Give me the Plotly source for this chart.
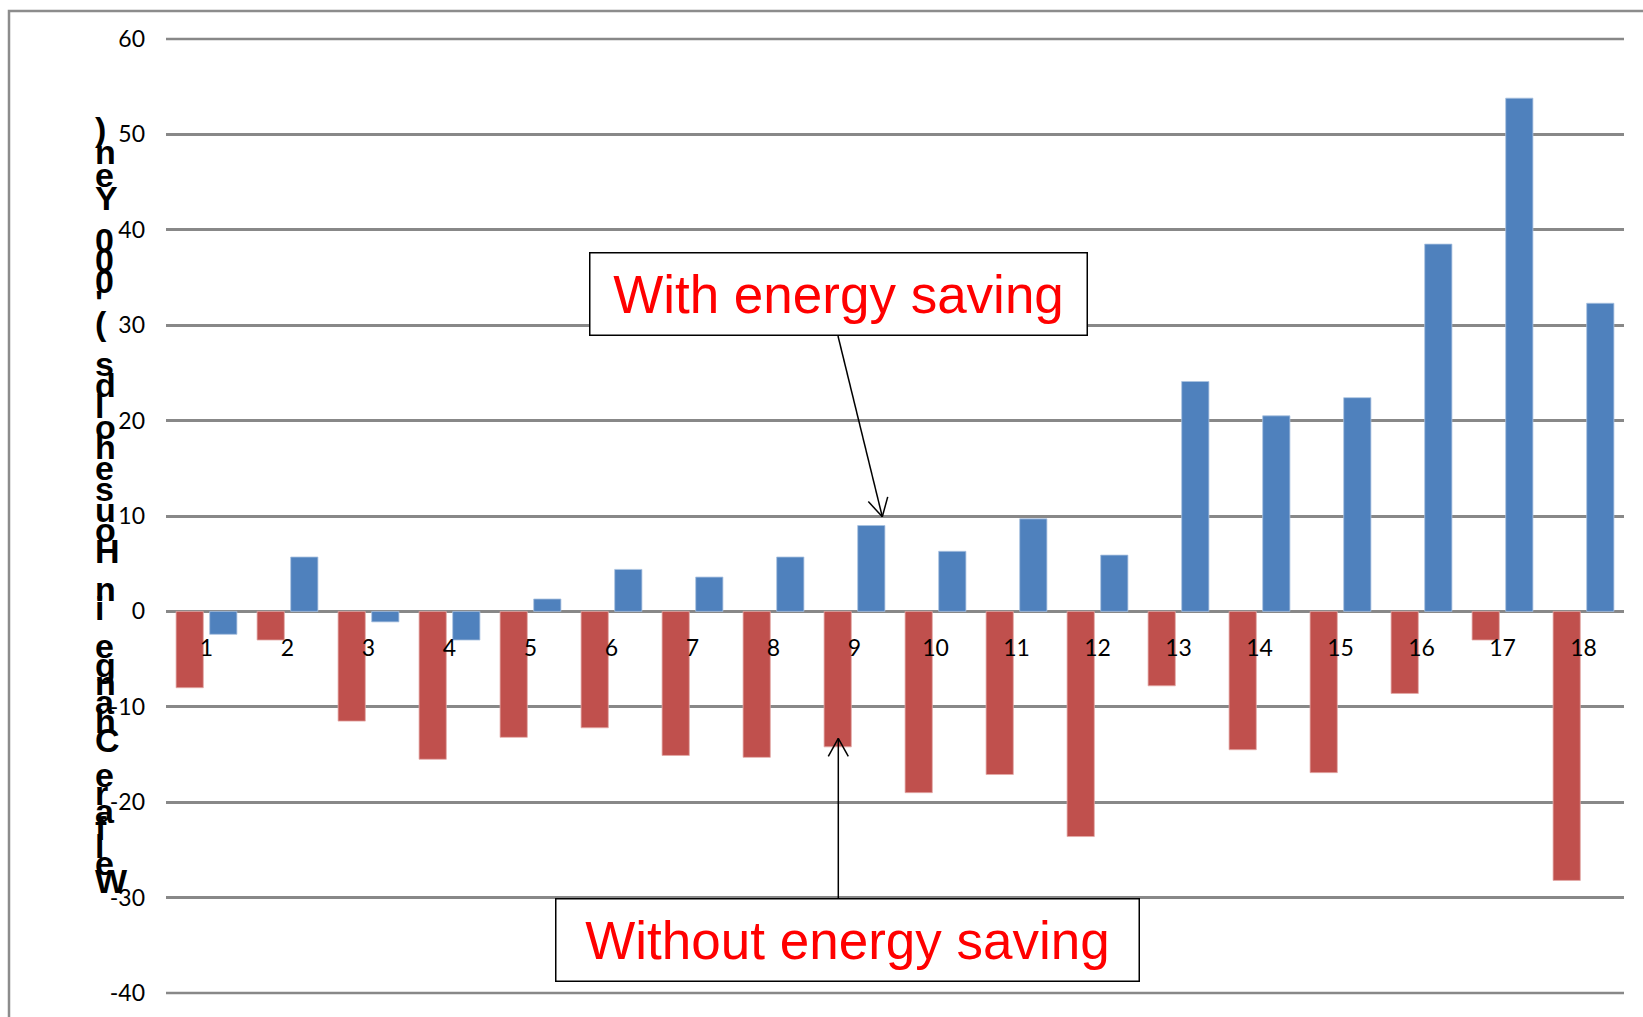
import numpy as np
import plotly.graph_objects as go

# ---- data ----
categories = [str(i) for i in range(1, 19)]
without_saving = [-8.0, -3.0, -11.5, -15.5, -13.2, -12.2, -15.1, -15.3, -14.2,
                  -19.0, -17.1, -23.6, -7.8, -14.5, -16.9, -8.6, -3.0, -28.2]
with_saving = [-2.4, 5.7, -1.1, -3.0, 1.3, 4.4, 3.6, 5.7, 9.0,
               6.3, 9.7, 5.9, 24.1, 20.5, 22.4, 38.5, 53.8, 32.3]
y_tickvals = [-40, -30, -20, -10, 0, 10, 20, 30, 40, 50, 60]
y_ticktext = ["-40", "-30", "-20", "-10", "0", "10", "20", "30", "40", "50", "60"]
y_title = "Welfare Change in Households ('000 Yen)"
label_with = "With energy saving"
label_without = "Without energy saving"

# ---- canvas geometry ----
W, H = 1643, 1017
ML, MR, MT, MB = 166, 19, 39, 24
PW, PH = W - ML - MR, H - MT - MB


def px(x):
    return (x - ML) / PW


def py(y):
    return (H - MB - y) / PH


RED = "#C0504D"
BLUE = "#4F81BD"
GRID = "#888888"

fig = go.Figure()
fig.add_trace(go.Bar(x=categories, y=without_saving, name=label_without,
                     marker=dict(color=RED, line=dict(color="#E3A9A7", width=0.8))))
fig.add_trace(go.Bar(x=categories, y=with_saving, name=label_with,
                     marker=dict(color=BLUE, line=dict(color="#A9C1E0", width=0.8))))

annotations = []

# stacked, upright characters of the value-axis title (read bottom to top)
anchor_idx = [0, 8, 18, 35, 38]
anchor_base = [893, 752, 563, 210, 141]
title_size = 34
for i, ch in enumerate(y_title):
    if ch == " ":
        continue
    base = float(np.interp(i, anchor_idx, anchor_base))
    annotations.append(dict(
        text=ch, xref="paper", yref="paper",
        x=px(93), y=py(base - 0.35 * title_size),
        xanchor="left", yanchor="middle", showarrow=False,
        font=dict(family="Liberation Sans", size=title_size, color="black", weight="bold"),
    ))

# callout boxes
box_font = dict(family="Liberation Sans", size=53, color="#FF0000")
annotations.append(dict(
    text=label_with, xref="paper", yref="paper",
    x=px((589 + 1088) / 2), y=py((252 + 336) / 2),
    xanchor="center", yanchor="middle", showarrow=False,
    width=496, height=81, borderpad=0, borderwidth=1.5,
    bordercolor="black", bgcolor="white", font=box_font,
))
annotations.append(dict(
    text=label_without, xref="paper", yref="paper",
    x=px((555 + 1140) / 2), y=py((898 + 982) / 2),
    xanchor="center", yanchor="middle", showarrow=False,
    width=582, height=81, borderpad=0, borderwidth=1.5,
    bordercolor="black", bgcolor="white", font=box_font,
))

shapes = []
# outer chart-area frame
shapes.append(dict(type="rect", xref="paper", yref="paper",
                   x0=px(9), y0=py(11), x1=px(1700), y1=py(1100),
                   line=dict(color="#8C8C8C", width=2.5), fillcolor="rgba(0,0,0,0)",
                   layer="below"))
# gridlines on the top and bottom of the value range (unclipped)
for edge in (0, 1):
    shapes.append(dict(type="line", xref="paper", yref="paper", x0=0, x1=1,
                       y0=edge, y1=edge, line=dict(color=GRID, width=2.5),
                       layer="below"))


def arrow(x0, y0, x1, y1, back=18, half=10):
    d = np.array([x1 - x0, y1 - y0], dtype=float)
    d /= np.linalg.norm(d)
    n = np.array([-d[1], d[0]])
    tip = np.array([x1, y1], dtype=float)
    base = tip - back * d
    segs = [((x0, y0), (x1, y1)),
            (tuple(base + half * n), tuple(tip)),
            (tuple(base - half * n), tuple(tip))]
    out = []
    for (a, b) in segs:
        out.append(dict(type="line", xref="paper", yref="paper",
                        x0=px(a[0]), y0=py(a[1]), x1=px(b[0]), y1=py(b[1]),
                        line=dict(color="black", width=1.5)))
    return out


shapes += arrow(838, 336, 882.3, 516.7)
shapes += arrow(838.3, 898, 838.3, 738.3)

tick_font = dict(family="Lato", size=23, color="black")

fig.update_layout(
    width=W, height=H,
    margin=dict(l=ML, r=MR, t=MT, b=MB, pad=0),
    paper_bgcolor="white", plot_bgcolor="white",
    showlegend=False,
    barmode="group", bargap=0.17, bargroupgap=0.19,
    annotations=annotations, shapes=shapes,
    xaxis=dict(type="category", showgrid=False, showline=False, zeroline=False,
               ticks="", anchor="free", position=0.4, tickfont=tick_font,
               ticklabelstandoff=21),
    yaxis=dict(range=[-40, 60], tickmode="array", tickvals=y_tickvals,
               ticktext=y_ticktext, showgrid=True,
               gridcolor=GRID, gridwidth=2.5, zeroline=True,
               zerolinecolor=GRID, zerolinewidth=2.5, showline=False,
               ticks="", tickfont=tick_font, ticklabelstandoff=20),
)

fig.write_html("out.html")
